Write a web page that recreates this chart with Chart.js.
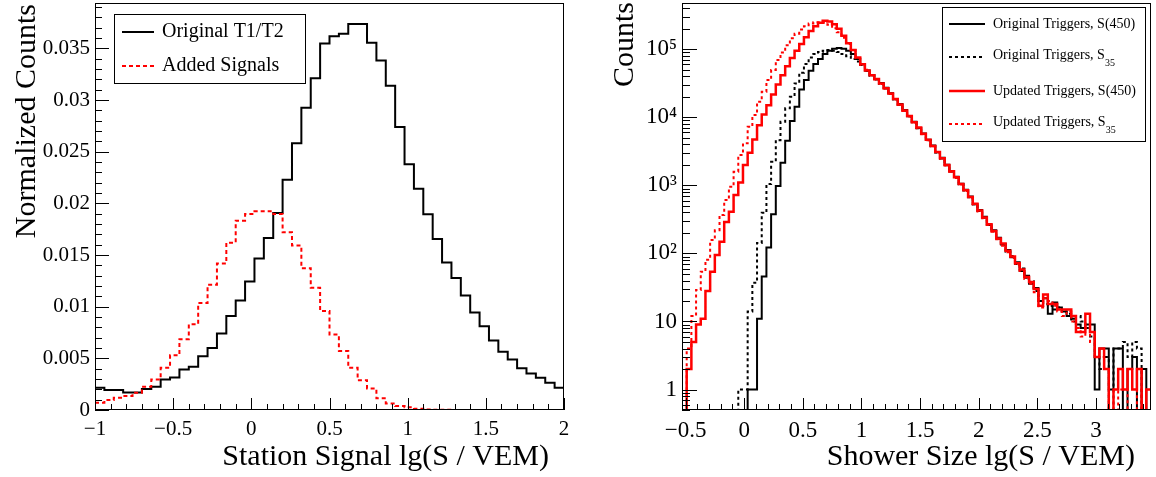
<!DOCTYPE html>
<html>
<head>
<meta charset="utf-8">
<title>Station signals and shower size</title>
<script src="https://cdn.jsdelivr.net/npm/chart.js@4.4.1/dist/chart.umd.min.js"></script>
<style>
  html, body { margin: 0; padding: 0; background: #fff; }
  #wrap { position: relative; width: 1156px; height: 477px; }
  canvas { position: absolute; top: 0; }
  #leftChart { left: 0; }
  #rightChart { left: 600px; }
</style>
</head>
<body>
<div id="wrap">
  <canvas id="leftChart" width="600" height="477"></canvas>
  <canvas id="rightChart" width="556" height="477"></canvas>
</div>
<script>
// left panel: 50 bins from -1 to 2
const leftBinLow = -1;
const leftBinWidth = 0.06;
const leftOriginal = [0.00215, 0.00193, 0.00193, 0.0017, 0.0017, 0.00203, 0.00225, 0.00296, 0.00315, 0.00392,
  0.00418, 0.00521, 0.00601, 0.0074, 0.0091, 0.01061, 0.01244, 0.01466, 0.01666, 0.01907,
  0.02228, 0.02582, 0.02926, 0.03212, 0.03547, 0.03617, 0.03643, 0.03736, 0.03736, 0.03556,
  0.03383, 0.03138, 0.0274, 0.02379, 0.02141, 0.01894, 0.01656, 0.01428, 0.01277, 0.01109,
  0.00945, 0.0081, 0.00672, 0.00563, 0.00489, 0.00405, 0.00354, 0.00312, 0.00264, 0.00215];
const leftAdded = [0.00071, 0.00096, 0.00119, 0.00135, 0.00167, 0.00225, 0.00296, 0.00408, 0.0053, 0.00685,
  0.0083, 0.01035, 0.01212, 0.01418, 0.0162, 0.01833, 0.01897, 0.01923, 0.01923, 0.01897,
  0.0172, 0.01592, 0.01373, 0.01183, 0.00958, 0.0073, 0.00572, 0.00408, 0.00289, 0.00209,
  0.00113, 0.00064, 0.00039, 0.00026, 0.00013, 0.00006, 0.00003, 0.00002, 0.00001, 0.00001,
  0, 0, 0, 0, 0, 0, 0, 0, 0, 0];

// right panel: 100 bins from -0.53 to 3.47
const rightBinLow = -0.53;
const rightBinWidth = 0.04;
const origS450 = [0, 0, 0, 0, 0, 0, 0, 0, 0, 0,
  0, 0, 0, 0, 1, 1, 11, 46, 122, 378,
  977, 2150, 4530, 8830, 14300, 25800, 35400, 48500, 60800, 72400,
  85100, 95500, 102000, 105000, 102000, 95500, 85100, 72400, 60300, 49000,
  41700, 36700, 32100, 27200, 22700, 18500, 15700, 12800, 10400, 8600,
  7000, 5800, 4700, 3850, 3060, 2540, 2020, 1600, 1340, 1060,
  860, 690, 530, 435, 345, 262, 220, 170, 135, 112,
  88, 74, 55, 47, 36, 31, 20, 22, 13, 19,
  16, 14, 12, 11, 9, 8, 9, 9, 1, 4,
  4, 1, 4, 4, 0, 2, 3, 0, 2, 0];
const origS35 = [0, 0, 0, 0, 0, 0, 0, 0, 0, 0,
  0, 0, 1, 1, 14, 37, 143, 395, 1045, 2220,
  4630, 8610, 13600, 20100, 31600, 45300, 60800, 76000, 85100, 91200,
  95500, 97700, 95500, 91200, 85100, 79400, 72400, 66100, 58900, 48000,
  41000, 36000, 31200, 26600, 22200, 18400, 15300, 12500, 10300, 8450,
  6950, 5700, 4620, 3780, 3050, 2480, 1980, 1610, 1300, 1040,
  840, 670, 530, 420, 335, 265, 212, 165, 138, 106,
  92, 70, 60, 44, 39, 28, 20, 18, 17, 15,
  16, 14, 13, 10, 12, 10, 8, 6, 3, 2,
  3, 0, 4, 4, 5, 3, 5, 4, 0, 0];
const updS450 = [0, 2, 5, 9, 11, 28, 54, 95, 149, 290,
  410, 720, 1100, 1990, 3020, 4730, 7690, 11000, 15100, 21700,
  30400, 41600, 56400, 74600, 95700, 120000, 151000, 186000, 219000, 245000,
  263000, 257000, 234000, 200000, 158000, 123000, 97700, 75900, 60300, 49000,
  41700, 36700, 31600, 26900, 22400, 18600, 15500, 12600, 10500, 8510,
  7080, 5750, 4680, 3800, 3090, 2510, 2000, 1620, 1320, 1050,
  850, 676, 537, 427, 339, 269, 214, 166, 140, 110,
  90, 72, 58, 45, 38, 30, 17, 25, 18, 18,
  15, 15, 15, 12, 7, 7, 13, 7, 3, 4,
  2, 0, 1, 2, 1, 2, 1, 2, 0, 1];
const updS35 = [0, 4, 12, 29, 54, 81, 157, 220, 366, 609,
  955, 1590, 2790, 4150, 7290, 10800, 17000, 23800, 35400, 49700,
  69700, 90000, 115000, 145000, 170000, 195000, 219000, 240000, 251000, 251000,
  245000, 229000, 204000, 178000, 148000, 120000, 97700, 74100, 59000, 50100,
  42000, 36000, 31000, 26500, 22100, 18300, 15200, 12400, 10300, 8400,
  6950, 5650, 4600, 3750, 3040, 2460, 1960, 1590, 1290, 1030,
  830, 660, 525, 415, 330, 262, 208, 162, 130, 104,
  86, 68, 55, 42, 36, 27, 16, 22, 20, 17,
  14, 12, 14, 10, 8, 6, 8, 5, 3, 3,
  2, 0, 0, 1, 1, 0, 0, 1, 0, 0];

const leftXTicks = [-1, -0.5, 0, 0.5, 1, 1.5, 2];
const leftYTicks = [0, 0.005, 0.01, 0.015, 0.02, 0.025, 0.03, 0.035];
const rightXTicks = [-0.5, 0, 0.5, 1, 1.5, 2, 2.5, 3];
const rightYTicks = [1, 10, 100, 1000, 10000, 100000];
const rightYTickLabels = ['1', '10', '10²', '10³', '10⁴', '10⁵'];

const SERIF = '"Liberation Serif", "Times New Roman", serif';
const SUBS = '₀₁₂₃₄₅₆₇₈₉';

// bin contents -> step points (left edge of each bin, plus the closing edge)
function histPoints(values, low, width, empty) {
    const pts = values.map((v, i) => ({ x: low + i * width, y: v > 0 ? v : empty }));
    pts.push({ x: low + values.length * width, y: pts[pts.length - 1].y });
    return pts;
}

function fmtNum(v) {
    return v < 0 ? '\u2212' + Math.abs(v) : String(v);
}

function linearMarks(min, max, minor, major) {
    const out = [];
    for (let v = Math.ceil(min / minor - 1e-6) * minor; v <= max + 1e-9; v += minor) {
        const r = v / major;
        out.push({ v: v, major: Math.abs(r - Math.round(r)) < 1e-6 });
    }
    return out;
}

function logMarks(min, max) {
    const out = [];
    for (let d = Math.floor(Math.log10(min)); d <= Math.ceil(Math.log10(max)); d++) {
        for (let m = 1; m <= 9; m++) {
            const v = m * Math.pow(10, d);
            if (v >= min && v <= max) out.push({ v: v, major: m === 1 });
        }
    }
    return out;
}

// keep the plot frame exactly where the axis boxes put it
function fixX(h) {
    return s => { s.height = h; s.paddingLeft = 0; s.paddingRight = 0; };
}
function fixY(w) {
    return s => { s.width = w; s.paddingTop = 0; s.paddingBottom = 0; };
}

// ROOT look: frame, inward ticks, boxed legend, end-aligned axis titles
const rootStyle = {
    id: 'rootStyle',
    afterDatasetsDraw(chart, args, o) {
        const ctx = chart.ctx;
        const a = chart.chartArea;
        const xs = chart.scales.x, ys = chart.scales.y;
        ctx.save();
        ctx.strokeStyle = '#000';
        ctx.lineWidth = 1;
        ctx.setLineDash([]);

        ctx.beginPath();
        linearMarks(xs.min, xs.max, o.xMinor, o.xMajor).forEach(t => {
            const px = Math.round(xs.getPixelForValue(t.v)) + 0.5;
            ctx.moveTo(px, a.bottom);
            ctx.lineTo(px, a.bottom - (t.major ? o.xLen[0] : o.xLen[1]));
        });
        const ym = o.logY ? logMarks(ys.min, ys.max) : linearMarks(ys.min, ys.max, o.yMinor, o.yMajor);
        ym.forEach(t => {
            const py = Math.round(ys.getPixelForValue(t.v)) + 0.5;
            ctx.moveTo(a.left, py);
            ctx.lineTo(a.left + (t.major ? o.yLen[0] : o.yLen[1]), py);
        });
        ctx.stroke();
        ctx.strokeRect(a.left + 0.5, a.top + 0.5, a.right - a.left - 1, a.bottom - a.top - 1);

        // legend
        const lg = o.legend;
        ctx.fillStyle = '#fff';
        ctx.fillRect(lg.box[0], lg.box[1], lg.box[2], lg.box[3]);
        ctx.strokeRect(lg.box[0] + 0.5, lg.box[1] + 0.5, lg.box[2], lg.box[3]);
        chart.data.datasets.forEach((ds, i) => {
            const y = lg.rows[i];
            ctx.save();
            ctx.strokeStyle = ds.borderColor;
            ctx.lineWidth = ds.borderWidth;
            ctx.setLineDash(ds.borderDash || []);
            ctx.beginPath();
            ctx.moveTo(lg.line[0], y);
            ctx.lineTo(lg.line[1], y);
            ctx.stroke();
            ctx.restore();

            let main = ds.label, sub = '';
            while (main.length && SUBS.includes(main[main.length - 1])) {
                sub = SUBS.indexOf(main[main.length - 1]) + sub;
                main = main.slice(0, -1);
            }
            ctx.fillStyle = '#000';
            ctx.textAlign = 'left';
            ctx.textBaseline = 'middle';
            ctx.font = lg.size + 'px ' + SERIF;
            ctx.fillText(main, lg.textX, sub ? y - 2 : y);
            if (sub) {
                const w = ctx.measureText(main).width;
                ctx.font = lg.subSize + 'px ' + SERIF;
                ctx.fillText(sub, lg.textX + w, y + lg.subDrop);
            }
        });

        // axis titles
        ctx.fillStyle = '#000';
        ctx.textAlign = 'right';
        ctx.textBaseline = 'alphabetic';
        ctx.font = o.titleSize + 'px ' + SERIF;
        ctx.fillText(o.xTitle.text, o.xTitle.x, o.xTitle.y);
        ctx.translate(o.yTitle.x, o.yTitle.y);
        ctx.rotate(-Math.PI / 2);
        ctx.fillText(o.yTitle.text, 0, 0);
        ctx.restore();
    }
};

function axisFont(size) {
    return { family: SERIF, size: size };
}

// left: station signals
new Chart(document.getElementById('leftChart'), {
    type: 'line',
    data: {
        datasets: [
            { label: 'Original T1/T2', data: histPoints(leftOriginal, leftBinLow, leftBinWidth, 0),
              borderColor: '#000', borderWidth: 2, stepped: 'before', pointRadius: 0, order: 1 },
            { label: 'Added Signals', data: histPoints(leftAdded, leftBinLow, leftBinWidth, 0),
              borderColor: '#ff0000', borderWidth: 2, borderDash: [4, 3], stepped: 'before', pointRadius: 0, order: 0 }
        ]
    },
    options: {
        responsive: false,
        animation: false,
        devicePixelRatio: 1,
        layout: { padding: { top: 3, right: 36, bottom: 0, left: 0 } },
        scales: {
            x: {
                type: 'linear', min: -1, max: 2, bounds: 'data',
                grid: { display: false, drawTicks: false }, border: { display: false },
                ticks: { font: axisFont(21), color: '#000', padding: 7, maxRotation: 0, autoSkip: false, callback: v => fmtNum(v) },
                afterBuildTicks: s => { s.ticks = leftXTicks.map(v => ({ value: v })); },
                afterFit: fixX(67)
            },
            y: {
                type: 'linear', min: 0, max: 0.0394, bounds: 'data',
                grid: { display: false, drawTicks: false }, border: { display: false },
                ticks: { font: axisFont(21), color: '#000', padding: 5, autoSkip: false, callback: v => fmtNum(v) },
                afterBuildTicks: s => { s.ticks = leftYTicks.map(v => ({ value: v })); },
                afterFit: fixY(95)
            }
        },
        plugins: {
            legend: { display: false },
            tooltip: { enabled: false },
            rootStyle: {
                xMinor: 0.1, xMajor: 0.5, xLen: [12, 6],
                yMinor: 0.001, yMajor: 0.005, yLen: [14, 7],
                logY: false,
                titleSize: 30,
                xTitle: { text: 'Station Signal lg(S / VEM)', x: 549, y: 465 },
                yTitle: { text: 'Normalized Counts', x: 35, y: 4 },
                legend: { box: [114, 14, 191, 69], rows: [32, 66], line: [122, 154], textX: 162, size: 20, subSize: 14, subDrop: 7 }
            }
        }
    },
    plugins: [rootStyle]
});

// right: shower size
new Chart(document.getElementById('rightChart'), {
    type: 'line',
    data: {
        datasets: [
            { label: 'Original Triggers, S(450)', data: histPoints(origS450, rightBinLow, rightBinWidth, 0.1),
              borderColor: '#000', borderWidth: 2, stepped: 'before', pointRadius: 0, order: 3 },
            { label: 'Original Triggers, S₃₅', data: histPoints(origS35, rightBinLow, rightBinWidth, 0.1),
              borderColor: '#000', borderWidth: 2, borderDash: [3, 3], stepped: 'before', pointRadius: 0, order: 2 },
            { label: 'Updated Triggers, S(450)', data: histPoints(updS450, rightBinLow, rightBinWidth, 0.1),
              borderColor: '#ff0000', borderWidth: 2.5, stepped: 'before', pointRadius: 0, order: 0 },
            { label: 'Updated Triggers, S₃₅', data: histPoints(updS35, rightBinLow, rightBinWidth, 0.1),
              borderColor: '#ff0000', borderWidth: 2, borderDash: [3, 3], stepped: 'before', pointRadius: 0, order: 1 }
        ]
    },
    options: {
        responsive: false,
        animation: false,
        devicePixelRatio: 1,
        layout: { padding: { top: 3, right: 5, bottom: 0, left: 0 } },
        scales: {
            x: {
                type: 'linear', min: -0.53, max: 3.47, bounds: 'data',
                grid: { display: false, drawTicks: false }, border: { display: false },
                ticks: { font: axisFont(23), color: '#000', padding: 7, maxRotation: 0, autoSkip: false, callback: v => fmtNum(v) },
                afterBuildTicks: s => { s.ticks = rightXTicks.map(v => ({ value: v })); },
                afterFit: fixX(67)
            },
            y: {
                type: 'logarithmic', min: 0.5, max: 480000, bounds: 'data',
                grid: { display: false, drawTicks: false }, border: { display: false },
                ticks: { font: axisFont(23), color: '#000', padding: 5, autoSkip: false,
                         callback: v => rightYTickLabels[rightYTicks.indexOf(v)] || '' },
                afterBuildTicks: s => { s.ticks = rightYTicks.map(v => ({ value: v })); },
                afterFit: fixY(82)
            }
        },
        plugins: {
            legend: { display: false },
            tooltip: { enabled: false },
            rootStyle: {
                xMinor: 0.1, xMajor: 0.5, xLen: [12, 6],
                logY: true, yLen: [15, 8],
                titleSize: 30,
                xTitle: { text: 'Shower Size lg(S / VEM)', x: 535, y: 465 },
                yTitle: { text: 'Counts', x: 33, y: 2 },
                legend: { box: [342, 7, 203, 134], rows: [24, 57, 91, 124], line: [349, 385], textX: 393, size: 14, subSize: 10, subDrop: 6 }
            }
        }
    },
    plugins: [rootStyle]
});
</script>
</body>
</html>
